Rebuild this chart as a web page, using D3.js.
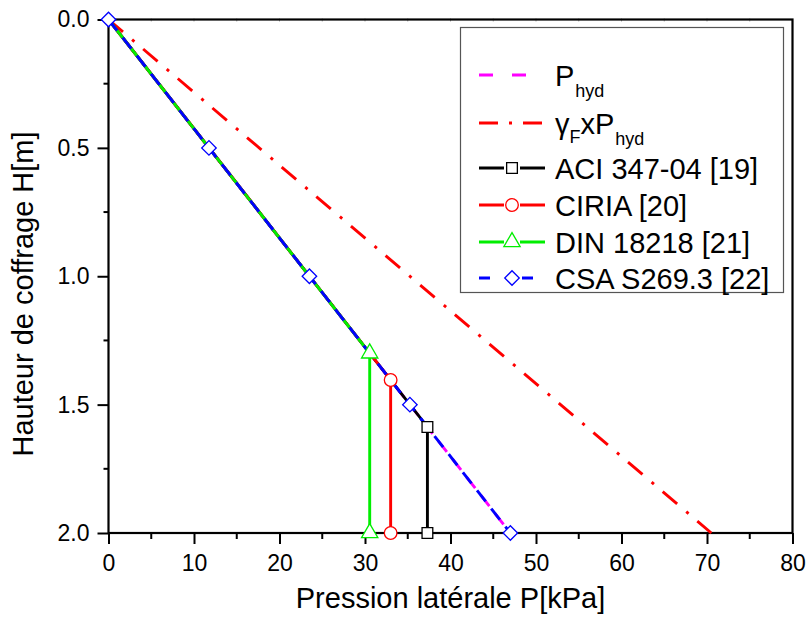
<!DOCTYPE html>
<html><head><meta charset="utf-8">
<script src="https://cdn.jsdelivr.net/npm/d3@7"></script>
<style>
body{margin:0;background:#fff;}
text{font-family:"Liberation Sans",Arial,Helvetica,sans-serif;}
</style></head><body>
<svg id="c" width="806" height="628"></svg>
<script>
// ---- data ----
const xTicks = [0,10,20,30,40,50,60,70,80];
const yTicks = [0.0,0.5,1.0,1.5,2.0];
const phydP = [0, 47.0];           const phydH = [0, 2.0];
const gammaP = [0, 70.5];          const gammaH = [0, 2.0];
const aciP = [0, 37.3, 37.3];      const aciH = [0, 1.587, 2.0];
const ciriaP = [0, 33.0, 33.0];    const ciriaH = [0, 1.404, 2.0];
const dinP = [0, 30.55, 30.55];    const dinH = [0, 1.30, 2.0];
const csaP = [0, 11.75, 23.5, 35.25, 47.0]; const csaH = [0, 0.5, 1.0, 1.5, 2.0];
const labels = ["P_hyd","γFxP_hyd","ACI 347-04 [19]","CIRIA [20]","DIN 18218 [21]","CSA S269.3 [22]"];

const svg = d3.select("#c");
svg.append("rect").attr("width",806).attr("height",628).attr("fill","#fff");
const x = d3.scaleLinear().domain([0,80]).range([108.5,792.5]);
const y = d3.scaleLinear().domain([0,2]).range([19.5,533]);

// minor ticks
const g = svg.append("g");
const xMinor = d3.range(5,80,10);
const yMinor = [0.25,0.75,1.25,1.75];
g.selectAll(".xmin").data(xMinor).enter().append("line")
 .attr("x1",d=>x(d)).attr("x2",d=>x(d)).attr("y1",y(2)).attr("y2",y(2)+6)
 .attr("stroke","#000").attr("stroke-width",2);
g.selectAll(".ymin").data(yMinor).enter().append("line")
 .attr("y1",d=>y(d)).attr("y2",d=>y(d)).attr("x1",x(0)-5).attr("x2",x(0))
 .attr("stroke","#000").attr("stroke-width",2);
// top faint ticks
g.selectAll(".tmin").data(d3.range(5,80,5)).enter().append("line")
 .attr("x1",d=>x(d)).attr("x2",d=>x(d)).attr("y1",y(0)-1).attr("y2",y(0)+2)
 .attr("stroke","#aaa").attr("stroke-width",1);

// axes
const xa = svg.append("g").attr("transform",`translate(0,${y(2)})`)
 .call(d3.axisBottom(x).tickValues(xTicks).tickSize(11).tickPadding(11).tickFormat(d3.format("d")));
const ya = svg.append("g").attr("transform",`translate(${x(0)},0)`)
 .call(d3.axisLeft(y).tickValues(yTicks).tickSize(11).tickPadding(8).tickFormat(d3.format(".1f")));
[xa,ya].forEach(a=>{
  a.selectAll("path.domain").remove();
  a.selectAll(".tick line").attr("stroke","#000").attr("stroke-width",2);
  a.selectAll(".tick text").attr("font-size",23).attr("fill","#000")
   .style("font-family","'Liberation Sans',Arial,sans-serif");
});
// frame
svg.append("rect").attr("x",x(0)).attr("y",y(0)).attr("width",x(80)-x(0)).attr("height",y(2)-y(0))
 .attr("fill","none").attr("stroke","#000").attr("stroke-width",2.2);

// axis titles
svg.append("text").attr("x",(x(0)+x(80))/2).attr("y",608).attr("text-anchor","middle")
 .attr("font-size",29).attr("fill","#000").text("Pression latérale P[kPa]");
svg.append("text").attr("transform","translate(33,294) rotate(-90)").attr("text-anchor","middle")
 .attr("font-size",29).attr("fill","#000").text("Hauteur de coffrage H[m]");

// plot
const plot = svg.append("g");
const line = d3.line().x(d=>x(d[0])).y(d=>y(d[1]));
const zip = (a,b)=>a.map((v,i)=>[v,b[i]]);
const series = [
 {p:phydP,h:phydH,color:"#ff00ff",dash:"14,9",off:-6,marker:null},
 {p:gammaP,h:gammaH,color:"#ff0000",dash:"19,12,3,11.5",off:0,marker:null},
 {p:aciP,h:aciH,color:"#000000",dash:null,off:0,marker:"square"},
 {p:ciriaP,h:ciriaH,color:"#ff0000",dash:null,off:0,marker:"circle"},
 {p:dinP,h:dinH,color:"#00ee00",dash:null,off:0,marker:"triangle"},
 {p:csaP,h:csaH,color:"#0000ff",dash:"14,9",off:0,marker:"diamond"}
];
const symMap = {square:[d3.symbolSquare,115],circle:[d3.symbolCircle,125],triangle:[d3.symbolTriangle,115],diamond:[d3.symbolSquare,105]};
function drawMarker(sel,type,color,cx,cy){
  const [s,size]=symMap[type];
  let tr = `translate(${cx},${cy})`;
  if(type==="diamond"){ tr+=" rotate(45)"; }
  sel.append("path").attr("d",d3.symbol().type(s).size(size)())
   .attr("transform",tr).attr("fill","#fff").attr("stroke",color).attr("stroke-width",1.3);
}
series.forEach(s=>{
  plot.append("path").attr("d",line(zip(s.p,s.h))).attr("fill","none")
   .attr("stroke",s.color).attr("stroke-width",2.9)
   .attr("stroke-dasharray",s.dash).attr("stroke-dashoffset",s.off).attr("stroke-linejoin","miter");
});
series.forEach(s=>{
  if(!s.marker) return;
  zip(s.p,s.h).forEach(d=>{
    if(d[0]===0 && s.marker!=="diamond") return;
    drawMarker(plot,s.marker,s.color,x(d[0]),y(d[1]));
  });
});

// legend
const lg = svg.append("g");
lg.append("rect").attr("x",460.5).attr("y",27.5).attr("width",323).attr("height",265)
 .attr("fill","#fff").attr("stroke","#555").attr("stroke-width",1.2);
const ly = [75,123,168,205,242,278];
const legDash = ["14,19","19,11,3,11",null,null,null,"11,32"];
series.forEach((s,i)=>{
  const yy=ly[i];
  lg.append("line").attr("x1",479).attr("x2",545).attr("y1",yy).attr("y2",yy)
   .attr("stroke",s.color).attr("stroke-width",2.9).attr("stroke-dasharray",legDash[i]);
  if(s.marker){
    lg.append("rect").attr("x",504).attr("y",yy-7).attr("width",16).attr("height",14).attr("fill","#fff");
    drawMarker(lg,s.marker,s.color,512,yy);
  }
  const t = lg.append("text").attr("x",555).attr("y",yy+10.5).attr("font-size",29).attr("fill","#000");
  if(i===0){
    t.append("tspan").text("P");
    t.append("tspan").attr("font-size",18).attr("dy",11).attr("dx",1).text("hyd");
  } else if(i===1){
    t.append("tspan").text("γ");
    t.append("tspan").attr("font-size",18).attr("dy",9).text("F");
    t.append("tspan").attr("dy",-9).text("xP");
    t.append("tspan").attr("font-size",18).attr("dy",11).attr("dx",1).text("hyd");
  } else {
    t.text(labels[i]);
  }
});
</script>
</body></html>
